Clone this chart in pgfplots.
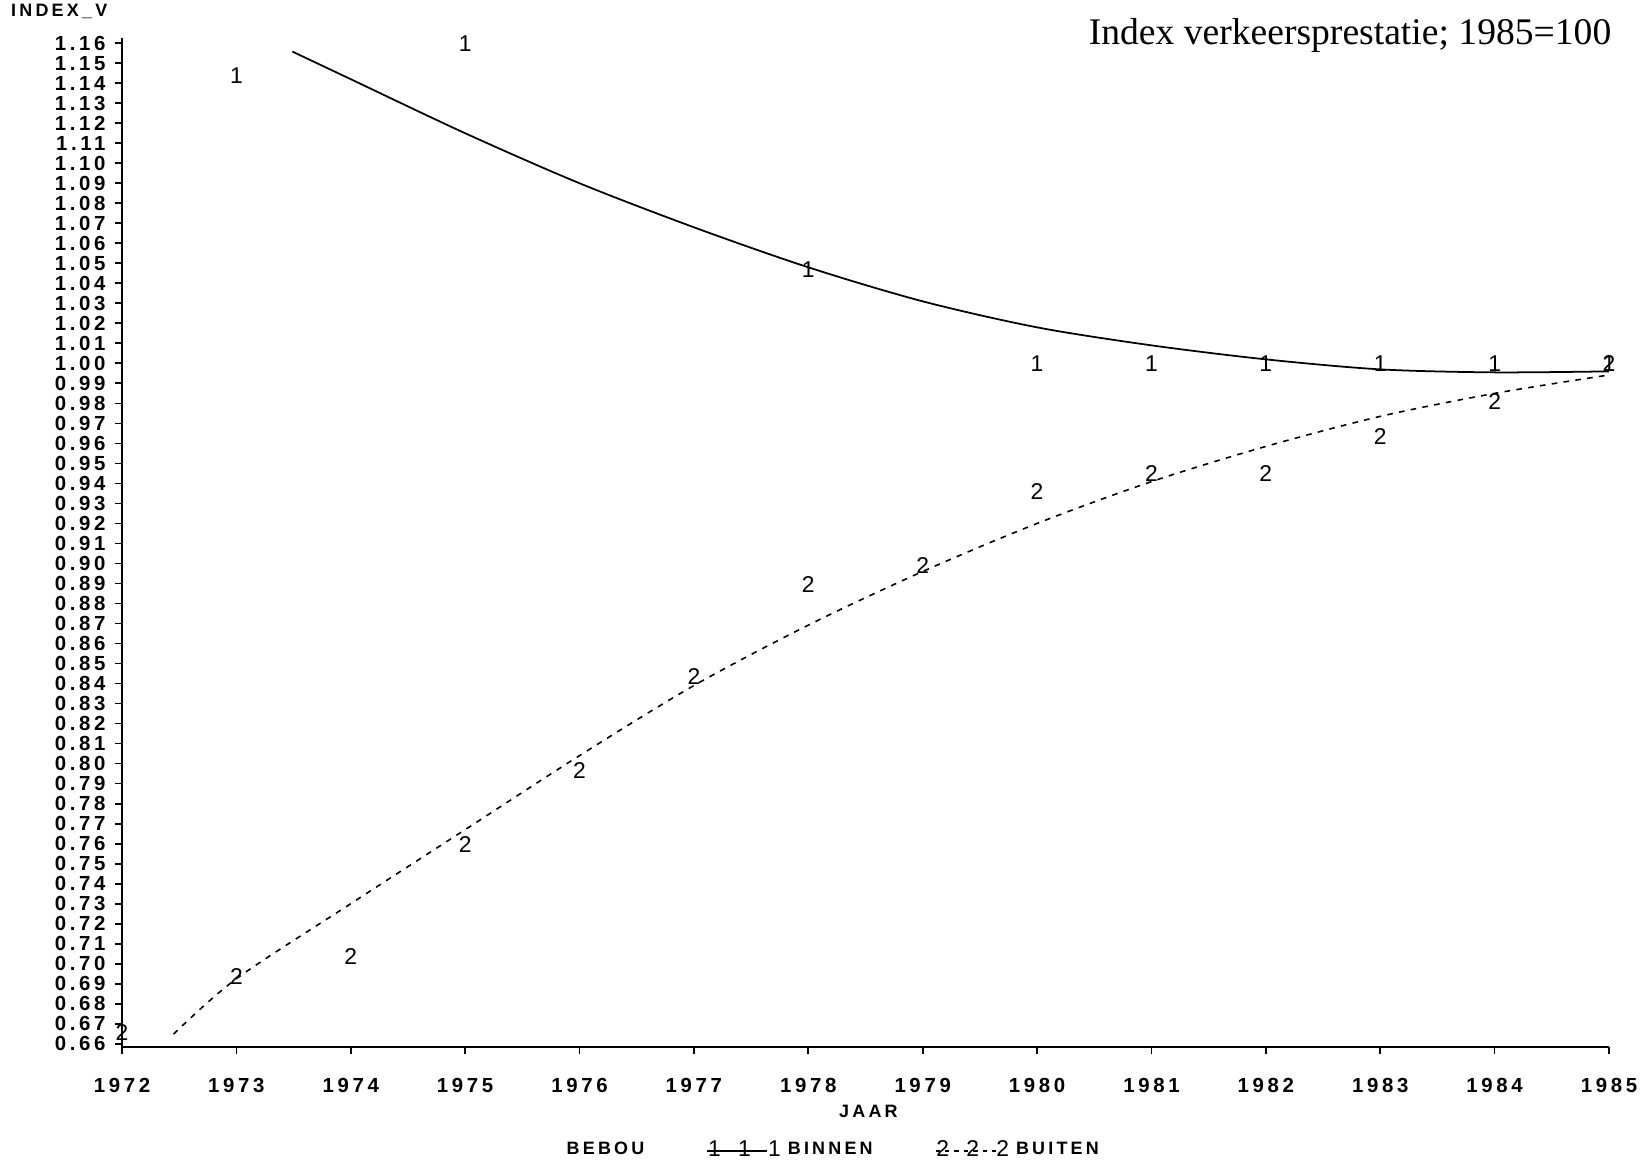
\documentclass[border=0pt]{standalone}
\usepackage{fontspec}
\usepackage{pgfplots}
\pgfplotsset{compat=1.18}
\setmainfont{Liberation Serif}
\newfontfamily\plotfont[LetterSpace=18]{Liberation Sans}
\newfontfamily\markfont{Liberation Sans}
\newcommand\tickfont{\fontsize{5.8}{6.5}\plotfont\bfseries}
\newcommand\labfont{\fontsize{5.1}{6}\plotfont\bfseries}
\pgfplotsset{threemark/.style={legend image code/.code={%
  \draw[mark repeat=1,##1] plot coordinates {(0cm,0cm) (0.3cm,0cm) (0.6cm,0cm)};}}}

\begin{document}
\begin{tikzpicture}
\path[use as bounding box] (0,0) rectangle (16.41cm,11.67cm);

\begin{axis}[
  at={(1.22cm,1.20cm)}, anchor=south west,
  scale only axis,
  width=14.87cm, height=10.09cm,
  xmin=1972, xmax=1985,
  ymin=0.6584, ymax=1.1626,
  clip=false,
  axis lines*=left,
  axis line style={line width=0.7pt, -},
  tick align=outside,
  major tick length=0.07cm,
  tick style={black, line width=0.5pt},
  xtick={1972,1973,1974,1975,1976,1977,1978,1979,1980,1981,1982,1983,1984,1985},
  xticklabels={1972,1973,1974,1975,1976,1977,1978,1979,1980,1981,1982,1983,1984,1985},
  ytick={0.66,0.67,0.68,0.69,0.70,0.71,0.72,0.73,0.74,0.75,0.76,0.77,0.78,0.79,
         0.80,0.81,0.82,0.83,0.84,0.85,0.86,0.87,0.88,0.89,0.90,0.91,0.92,0.93,0.94,
         0.95,0.96,0.97,0.98,0.99,1.00,1.01,1.02,1.03,1.04,1.05,1.06,1.07,1.08,1.09,
         1.10,1.11,1.12,1.13,1.14,1.15,1.16},
  yticklabel={\pgfmathprintnumber[fixed,fixed zerofill,precision=2]{\tick}},
  /pgf/number format/assume math mode=true,
  ticklabel style={font=\tickfont},
  xticklabel style={yshift=-0.12cm},
  yticklabel style={xshift=0.03cm},
  xlabel={JAAR},
  xlabel style={font=\labfont, at={(axis description cs:0.502,-0.064)}, anchor=center},
  ylabel={INDEX\_V},
  ylabel style={font=\labfont, inner sep=0pt, rotate=-90, at={(axis description cs:-0.075,1.026)}, anchor=west},
  legend columns=3,
  legend style={draw=none, fill=none, font=\labfont,
    at={(axis description cs:0.478,-0.103)}, anchor=center,
    /tikz/every even column/.append style={column sep=0.55cm}},
  legend cell align=left,
  text mark as node=true,
  text mark style={font=\fontsize{6.5}{7}\markfont, inner sep=0pt},
]

% BINNEN fitted curve
\addplot [forget plot, black, line width=0.5pt, smooth] coordinates {
(1973.49,1.1558) (1974,1.142) (1975,1.115) (1976,1.090) (1977,1.068)
(1978,1.048) (1979,1.031) (1980,1.018) (1981,1.009) (1982,1.002)
(1983,0.997) (1984,0.9955) (1985,0.996)
};
% BUITEN fitted curve
\addplot [forget plot, black, line width=0.45pt, dash pattern=on 1.6pt off 1.8pt, smooth] coordinates {
(1972.45,0.6648) (1973,0.6925) (1974,0.7300) (1975,0.7670) (1976,0.8040)
(1977,0.8390) (1978,0.8692) (1979,0.8960) (1980,0.9200) (1981,0.9409)
(1982,0.9585) (1983,0.9735) (1984,0.9850) (1985,0.9942)
};
% BINNEN observations
\addplot [forget plot, only marks, mark=text, text mark={1}] coordinates {
(1973,1.144) (1975,1.160) (1978,1.047) (1980,1.000) (1981,1.000)
(1982,1.000) (1983,1.000) (1984,1.000) (1985,1.000)
};
% BUITEN observations
\addplot [forget plot, only marks, mark=text, text mark={2}] coordinates {
(1972,0.6658) (1973,0.6935) (1974,0.7034) (1975,0.7594) (1976,0.7965)
(1977,0.8436) (1978,0.8896) (1979,0.8990) (1980,0.9360) (1981,0.9450)
(1982,0.9450) (1983,0.9633) (1984,0.9810) (1985,1.000)
};

\addlegendimage{empty legend}
\addlegendentry{BEBOU}
\addlegendimage{black, line width=0.5pt, mark=text, text mark={1}, threemark}
\addlegendentry{BINNEN}
\addlegendimage{black, line width=0.45pt, dash pattern=on 1.2pt off 1.5pt, mark=text, text mark={2}, threemark}
\addlegendentry{BUITEN}

\node[anchor=base east, inner sep=0pt, font=\fontsize{10.7}{13}\selectfont]
  at (axis description cs:1.002,0.994) {Index verkeersprestatie; 1985=100};

\end{axis}
\end{tikzpicture}
\end{document}
